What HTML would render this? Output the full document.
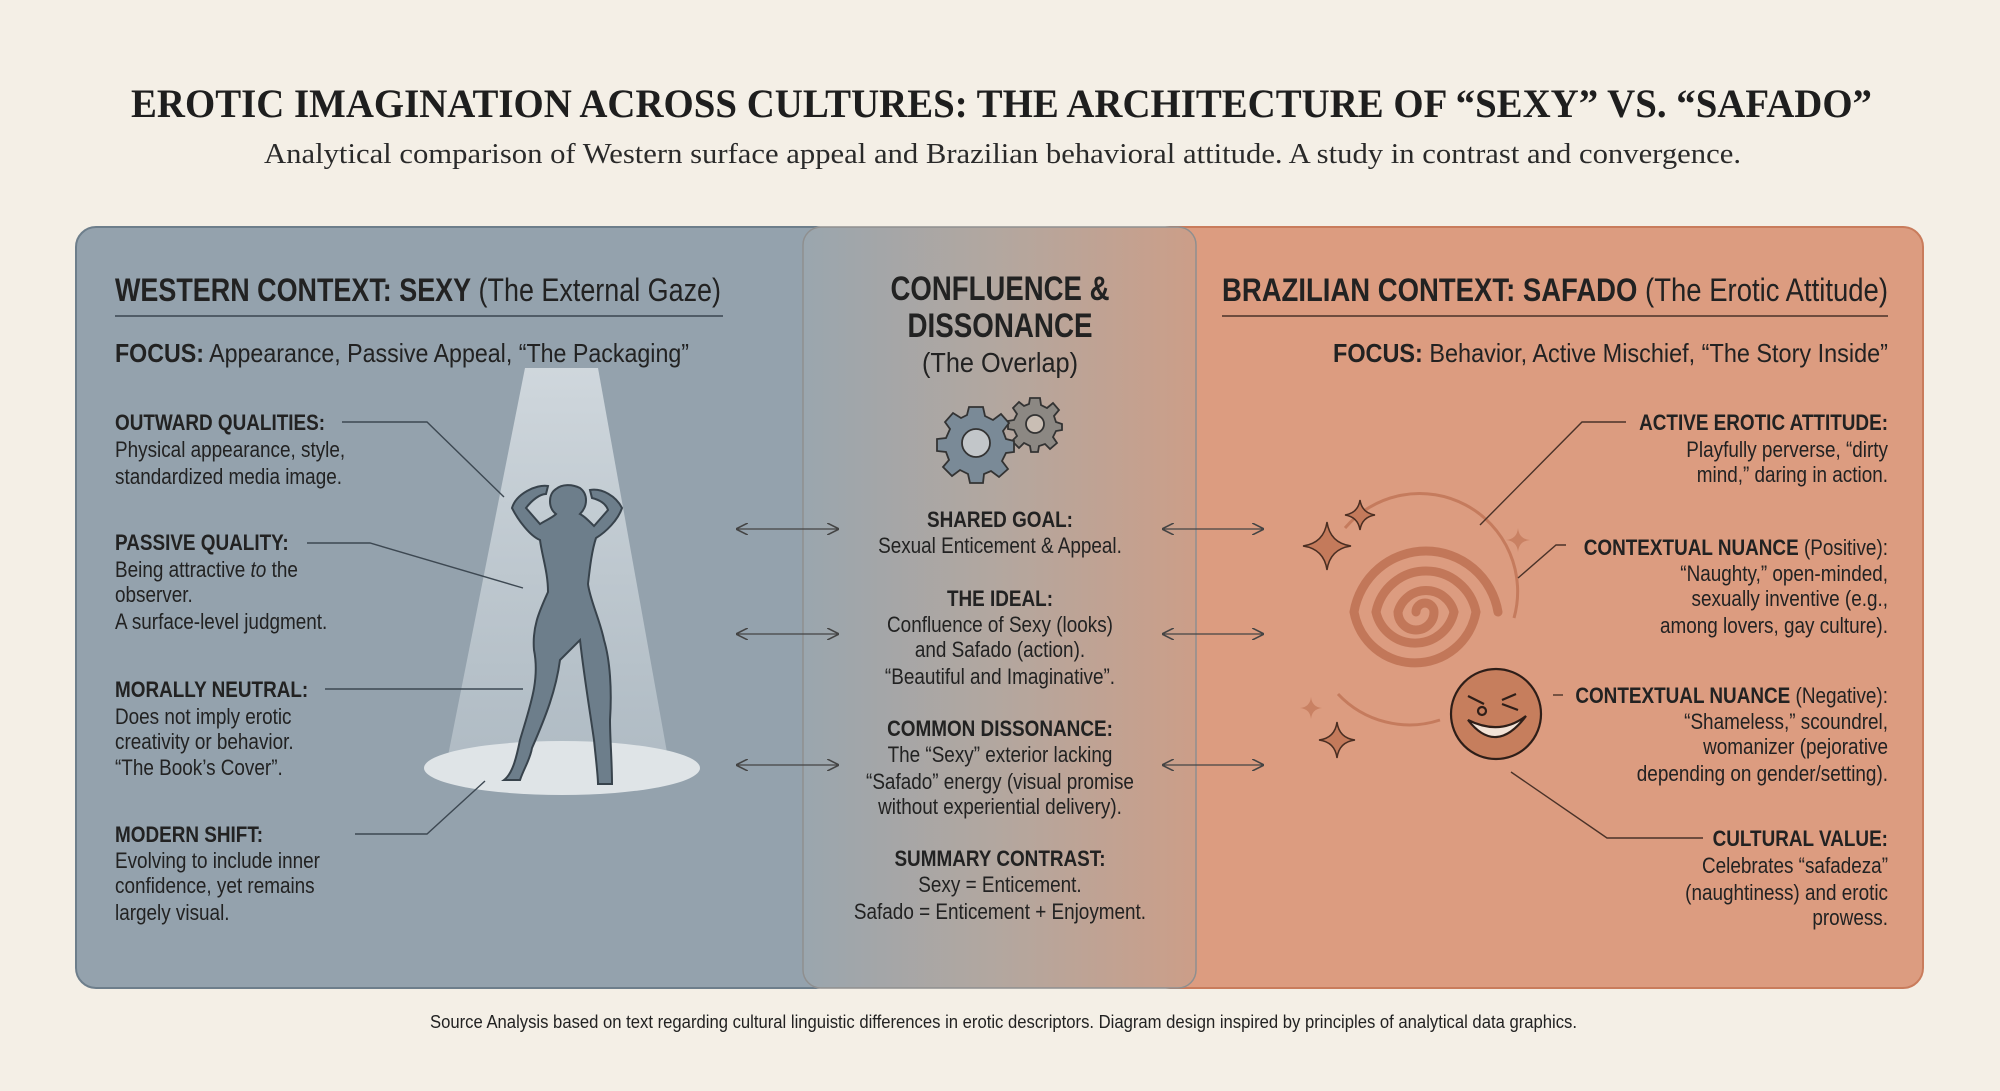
<!DOCTYPE html>
<html><head><meta charset="utf-8"><style>
html,body{margin:0;padding:0;background:#f4efe6;}
svg{display:block}
.b{font-family:"Liberation Sans Narrow","Liberation Sans",sans-serif;fill:#222;}
.t{font-size:22px}
.h{font-weight:bold}
</style></head><body>
<svg width="2000" height="1091" viewBox="0 0 2000 1091" xmlns="http://www.w3.org/2000/svg">
<defs>
<linearGradient id="mid" x1="0" x2="1" y1="0" y2="0">
<stop offset="0" stop-color="#9aa6ae"/><stop offset="0.5" stop-color="#b3a79f"/><stop offset="1" stop-color="#cc9e88"/>
</linearGradient>
<linearGradient id="cone" x1="0" x2="0" y1="0" y2="1">
<stop offset="0" stop-color="#d6dde2" stop-opacity="0.9"/><stop offset="1" stop-color="#c2ccd3" stop-opacity="0.6"/>
</linearGradient>
<marker id="ah" viewBox="0 0 10 10" refX="9" refY="5" markerWidth="12" markerHeight="12" orient="auto-start-reverse" markerUnits="userSpaceOnUse">
<path d="M0,0 L10,5 L0,10" fill="none" stroke="#444" stroke-width="1.3"/></marker>
</defs>
<rect width="2000" height="1091" fill="#f4efe6"/>
<text x="131" y="117" font-family="Liberation Serif,serif" font-weight="bold" font-size="40" fill="#1e1e1e" textLength="1741" lengthAdjust="spacingAndGlyphs">EROTIC IMAGINATION ACROSS CULTURES: THE ARCHITECTURE OF “SEXY” VS. “SAFADO”</text>
<text x="264" y="163" font-family="Liberation Serif,serif" font-size="28" fill="#2a2a2a" textLength="1477" lengthAdjust="spacingAndGlyphs">Analytical comparison of Western surface appeal and Brazilian behavioral attitude. A study in contrast and convergence.</text>

<rect x="1150" y="227" width="773" height="761" rx="20" fill="#dc9c80" stroke="#c97c5c" stroke-width="2"/>
<rect x="76" y="227" width="760" height="761" rx="20" fill="#94a2ad" stroke="#6d7e8b" stroke-width="2"/>
<rect x="803" y="227" width="393" height="761" rx="18" fill="url(#mid)" stroke="#8f8f8f" stroke-width="1.5"/>

<text x="115" y="301" class="b" font-size="32" textLength="606" lengthAdjust="spacingAndGlyphs"><tspan class="h">WESTERN CONTEXT: SEXY</tspan> (The External Gaze)</text>
<line x1="115" y1="316" x2="723" y2="316" stroke="#3a4550" stroke-width="1.5"/>
<text x="115" y="362" class="b" font-size="26" textLength="574" lengthAdjust="spacingAndGlyphs"><tspan class="h">FOCUS:</tspan> Appearance, Passive Appeal, “The Packaging”</text>

<polygon points="525,368 598,368 668,758 446,766" fill="url(#cone)"/>
<ellipse cx="562" cy="768" rx="138" ry="27" fill="#dfe4e7"/>
<path d="M556,489 C548,494 548,508 556,514 C552,518 546,520 540,524 L526,508 C532,500 540,494 546,494 L548,486 C536,484 516,494 512,508 C518,520 530,536 540,540 C542,556 548,572 548,592 C540,610 532,626 534,650 C540,680 530,706 520,740 C516,760 512,774 504,780 L520,780 C524,768 530,760 532,748 C546,716 556,690 560,660 L580,640 C584,676 590,712 594,740 C596,760 598,776 598,784 L612,784 C612,760 610,740 610,720 C612,690 610,660 604,640 C600,620 590,600 588,584 C590,566 592,550 596,538 C606,532 618,520 622,508 C616,496 602,488 590,490 L592,498 C600,500 606,504 608,510 L594,526 C588,520 584,516 580,514 C588,506 588,494 580,488 C572,484 562,484 556,489 Z" fill="#6d7e8b" stroke="#38434c" stroke-width="2"/>

<g fill="none" stroke="#3d4852" stroke-width="1.4">
<polyline points="342,422 427,422 504,497"/>
<polyline points="307,543 370,543 523,588"/>
<polyline points="325,689 523,689"/>
<polyline points="355,834 427,834 485,781"/>
</g>
<g class="b t" transform="translate(115,0) scale(0.86,1) translate(-115,0)">
<text x="115" y="430" class="h">OUTWARD QUALITIES:</text>
<text x="115" y="457">Physical appearance, style,</text>
<text x="115" y="484">standardized media image.</text>
<text x="115" y="550" class="h">PASSIVE QUALITY:</text>
<text x="115" y="577">Being attractive <tspan font-style="italic">to</tspan> the</text>
<text x="115" y="602">observer.</text>
<text x="115" y="629">A surface-level judgment.</text>
<text x="115" y="697" class="h">MORALLY NEUTRAL:</text>
<text x="115" y="724">Does not imply erotic</text>
<text x="115" y="749">creativity or behavior.</text>
<text x="115" y="775">“The Book’s Cover”.</text>
<text x="115" y="842" class="h">MODERN SHIFT:</text>
<text x="115" y="868">Evolving to include inner</text>
<text x="115" y="893">confidence, yet remains</text>
<text x="115" y="920">largely visual.</text>
</g>

<g class="b" text-anchor="middle">
<text x="1000" y="300" font-size="34" class="h" textLength="219" lengthAdjust="spacingAndGlyphs">CONFLUENCE &amp;</text>
<text x="1000" y="337" font-size="34" class="h" textLength="185" lengthAdjust="spacingAndGlyphs">DISSONANCE</text>
<text x="1000" y="372" font-size="28" textLength="156" lengthAdjust="spacingAndGlyphs">(The Overlap)</text>
</g>
<g stroke="#333" stroke-width="1.8">
<g transform="translate(1035,424)" fill="#8c8883">
<path d="M-5,-26 L5,-26 L6,-19 L12,-16 L18,-21 L24,-14 L19,-8 L21,-2 L27,0 L27,6 L21,7 L18,13 L22,19 L15,25 L10,20 L4,22 L3,28 L-4,28 L-5,22 L-11,19 L-16,24 L-23,17 L-18,12 L-21,6 L-27,5 L-27,-3 L-21,-4 L-18,-10 L-22,-16 L-16,-22 L-11,-18 L-6,-20 Z"/>
<circle r="9" fill="#c9beb4"/>
</g>
<g transform="translate(976,443)" fill="#7a8a97">
<path d="M-7,-36 L7,-36 L9,-27 L17,-23 L25,-29 L33,-20 L27,-12 L30,-4 L38,-2 L38,9 L30,10 L26,18 L32,26 L23,34 L15,28 L8,31 L7,40 L-6,40 L-8,31 L-16,27 L-24,33 L-33,24 L-27,17 L-30,9 L-39,8 L-39,-4 L-30,-5 L-26,-14 L-31,-21 L-23,-30 L-15,-25 L-9,-28 Z"/>
<circle r="14" fill="#c2c6c9"/>
</g>
</g>
<g class="b t" text-anchor="middle" transform="translate(1000,0) scale(0.86,1) translate(-1000,0)">
<text x="1000" y="527" class="h">SHARED GOAL:</text>
<text x="1000" y="553">Sexual Enticement &amp; Appeal.</text>
<text x="1000" y="606" class="h">THE IDEAL:</text>
<text x="1000" y="632">Confluence of Sexy (looks)</text>
<text x="1000" y="657">and Safado (action).</text>
<text x="1000" y="684">“Beautiful and Imaginative”.</text>
<text x="1000" y="736" class="h">COMMON DISSONANCE:</text>
<text x="1000" y="762">The “Sexy” exterior lacking</text>
<text x="1000" y="789">“Safado” energy (visual promise</text>
<text x="1000" y="814">without experiential delivery).</text>
<text x="1000" y="866" class="h">SUMMARY CONTRAST:</text>
<text x="1000" y="892">Sexy = Enticement.</text>
<text x="1000" y="919">Safado = Enticement + Enjoyment.</text>
</g>
<g stroke="#444" stroke-width="1.3" marker-start="url(#ah)" marker-end="url(#ah)">
<line x1="737" y1="529" x2="838" y2="529"/>
<line x1="737" y1="634" x2="838" y2="634"/>
<line x1="737" y1="765" x2="838" y2="765"/>
<line x1="1163" y1="529" x2="1263" y2="529"/>
<line x1="1163" y1="634" x2="1263" y2="634"/>
<line x1="1163" y1="765" x2="1263" y2="765"/>
</g>

<text x="1222" y="301" class="b" font-size="32" textLength="666" lengthAdjust="spacingAndGlyphs"><tspan class="h">BRAZILIAN CONTEXT: SAFADO</tspan> (The Erotic Attitude)</text>
<line x1="1222" y1="316" x2="1888" y2="316" stroke="#4a3228" stroke-width="1.5"/>
<text x="1333" y="362" class="b" font-size="26" textLength="555" lengthAdjust="spacingAndGlyphs"><tspan class="h">FOCUS:</tspan> Behavior, Active Mischief, “The Story Inside”</text>

<path d="M1416,612 a9,9 0 0 1 18,0 a18,18 0 0 1 -36,0 a29,29 0 0 1 56,0 a40,40 0 0 1 -78,0 a51,51 0 0 1 100,0 a62,62 0 0 1 -122,0 a73,73 0 0 1 144,0" fill="none" stroke="#bb6e4f" stroke-width="9" stroke-linecap="round" opacity="0.8"/>
<path d="M1345,528 A98,98 0 0 1 1514,618" fill="none" stroke="#bb6e4f" stroke-width="3" opacity="0.7"/>
<path d="M1338,694 A98,98 0 0 0 1440,720" fill="none" stroke="#bb6e4f" stroke-width="3" opacity="0.7"/>
<g fill="#c47a5b" stroke="#4a2e22" stroke-width="1.5">
<path d="M1327,522 Q1330,543 1351,546 Q1330,549 1327,570 Q1324,549 1303,546 Q1324,543 1327,522 Z"/>
<path d="M1360,500 Q1362,513 1375,515 Q1362,517 1360,530 Q1358,517 1345,515 Q1358,513 1360,500 Z"/>
<path d="M1337,722 Q1339,738 1355,740 Q1339,742 1337,758 Q1335,742 1319,740 Q1335,738 1337,722 Z"/>
</g>
<g fill="#c47a5b" opacity="0.8">
<path d="M1518,528 Q1519,539 1530,540 Q1519,541 1518,552 Q1517,541 1506,540 Q1517,539 1518,528 Z"/>
<path d="M1311,697 Q1312,707 1322,708 Q1312,709 1311,719 Q1310,709 1300,708 Q1310,707 1311,697 Z"/>
</g>
<g transform="translate(1496,714)" stroke="#2e1e18" stroke-width="2.2" fill="none">
<circle r="45" fill="#c67e5d"/>
<path d="M-28,-18 L-12,-10"/><circle cx="-14" cy="-3" r="4"/>
<path d="M6,-14 L20,-20 M6,-10 L22,-4"/>
<path d="M-28,6 Q0,42 30,2 Q4,22 -28,6 Z" fill="#f2e2d6"/>
</g>

<g fill="none" stroke="#4a3228" stroke-width="1.4">
<polyline points="1626,422 1582,422 1480,525"/>
<polyline points="1566,545 1556,545 1518,578"/>
<polyline points="1553,695 1563,695"/>
<polyline points="1703,838 1607,838 1511,772"/>
</g>
<g class="b t" text-anchor="end" transform="translate(1888,0) scale(0.86,1) translate(-1888,0)">
<text x="1888" y="430" class="h">ACTIVE EROTIC ATTITUDE:</text>
<text x="1888" y="457">Playfully perverse, “dirty</text>
<text x="1888" y="482">mind,” daring in action.</text>
<text x="1888" y="555"><tspan class="h">CONTEXTUAL NUANCE</tspan> (Positive):</text>
<text x="1888" y="581">“Naughty,” open-minded,</text>
<text x="1888" y="606">sexually inventive (e.g.,</text>
<text x="1888" y="633">among lovers, gay culture).</text>
<text x="1888" y="703"><tspan class="h">CONTEXTUAL NUANCE</tspan> (Negative):</text>
<text x="1888" y="729">“Shameless,” scoundrel,</text>
<text x="1888" y="754">womanizer (pejorative</text>
<text x="1888" y="781">depending on gender/setting).</text>
<text x="1888" y="846" class="h">CULTURAL VALUE:</text>
<text x="1888" y="873">Celebrates “safadeza”</text>
<text x="1888" y="900">(naughtiness) and erotic</text>
<text x="1888" y="925">prowess.</text>
</g>

<text x="430" y="1028" class="b" font-size="18" textLength="1147" lengthAdjust="spacingAndGlyphs">Source Analysis based on text regarding cultural linguistic differences in erotic descriptors. Diagram design inspired by principles of analytical data graphics.</text>
</svg>
</body></html>
